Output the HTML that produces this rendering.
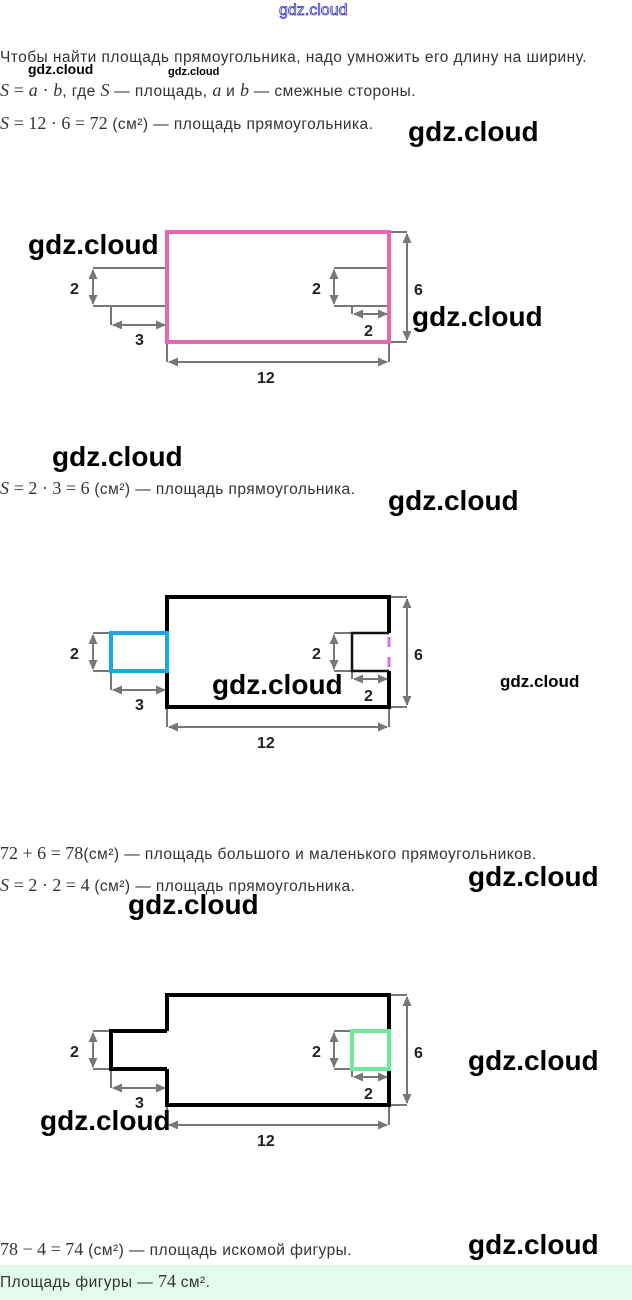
<!DOCTYPE html>
<html><head><meta charset="utf-8"><style>
body{margin:0;width:632px;height:1300px;background:#fff;position:relative;overflow:hidden;font-family:"Liberation Sans",sans-serif;}
.t{position:absolute;left:0;font-size:15.5px;letter-spacing:0.45px;color:#333;white-space:nowrap;line-height:18px;}
.m{font-family:"Liberation Serif",serif;font-size:18px;letter-spacing:0;}
.mi{font-family:"Liberation Serif",serif;font-style:italic;font-size:18px;letter-spacing:0;}
.w{position:absolute;font-family:"Liberation Sans",sans-serif;font-weight:bold;color:#000;white-space:nowrap;line-height:1;}
svg{position:absolute;left:0;top:0;}
</style></head><body>
<div class="w" style="left:279px;top:3px;font-size:16px;font-weight:normal;color:#fff;-webkit-text-stroke:0.8px #3333cc;">gdz.cloud</div>

<div class="t" style="top:49px;">Чтобы найти площадь прямоугольника, надо умножить его длину на ширину.</div>
<div class="t" style="top:81px;"><span class="mi">S</span> <span class="m">=</span> <span class="mi">a</span> <span class="m">·</span> <span class="mi">b</span>, где <span class="mi">S</span> — площадь, <span class="mi">a</span> и <span class="mi">b</span> — смежные стороны.</div>
<div class="t" style="top:114px;"><span class="mi">S</span> <span class="m">= 12 · 6 = 72</span> (см²) — площадь прямоугольника.</div>
<div class="t" style="top:479px;"><span class="mi">S</span> <span class="m">= 2 · 3 = 6</span> (см²) — площадь прямоугольника.</div>
<div class="t" style="top:844px;"><span class="m">72 + 6 = 78</span>(см²) — площадь большого и маленького прямоугольников.</div>
<div class="t" style="top:876px;"><span class="mi">S</span> <span class="m">= 2 · 2 = 4</span> (см²) — площадь прямоугольника.</div>
<div class="t" style="top:1240px;"><span class="m">78 − 4 = 74</span> (см²) — площадь искомой фигуры.</div>
<div style="position:absolute;left:0;top:1265px;width:632px;height:35px;background:#e3fbec;"></div>
<div class="t" style="top:1272px;">Площадь фигуры — <span class="m">74</span> см².</div>

<svg width="632" height="1300" xmlns="http://www.w3.org/2000/svg">
<defs>
<marker id="a" viewBox="0 0 10 10" refX="9" refY="5" markerWidth="5" markerHeight="5" orient="auto-start-reverse"><path d="M0,0.5 L10,5 L0,9.5 z" fill="#777"/></marker>
<g id="dims" stroke="#777" stroke-width="2" fill="none">
<path d="M93,36H167M93,74H167M111,74V93"/>
<line x1="93" y1="38" x2="93" y2="72" marker-start="url(#a)" marker-end="url(#a)"/>
<line x1="113" y1="93" x2="165" y2="93" marker-start="url(#a)" marker-end="url(#a)"/>
<path d="M334,36H389M334,74H389M352,74V82"/>
<line x1="334" y1="38" x2="334" y2="72" marker-start="url(#a)" marker-end="url(#a)"/>
<line x1="354" y1="82" x2="387" y2="82" marker-start="url(#a)" marker-end="url(#a)"/>
<path d="M389,0H407M389,110H407M167,110V130M389,110V130"/>
<line x1="407" y1="2" x2="407" y2="108" marker-start="url(#a)" marker-end="url(#a)"/>
<line x1="169" y1="130" x2="387" y2="130" marker-start="url(#a)" marker-end="url(#a)"/>
</g>
<g id="lbl" font-family="Liberation Sans, sans-serif" font-weight="bold" font-size="16" fill="#222">
<text x="70" y="62">2</text><text x="135" y="113">3</text><text x="312" y="62">2</text>
<text x="364" y="104">2</text><text x="414" y="63">6</text><text x="257" y="151">12</text>
</g>
</defs>

<g transform="translate(0,232)">
<use href="#dims"/><use href="#lbl"/>
<rect x="167" y="0" width="222" height="110" fill="none" stroke="#e866b0" stroke-width="4"/>
</g>

<g transform="translate(0,597)">
<use href="#dims"/><use href="#lbl"/>
<path d="M167,36V0H389V36M389,74V110H167V74" fill="none" stroke="#000" stroke-width="4"/>
<path d="M389,36H352V74H389" fill="none" stroke="#111" stroke-width="2.5"/>
<path d="M389,40V50M389,60V70" stroke="#d070e8" stroke-width="3"/>
<rect x="111" y="36" width="56" height="38" fill="none" stroke="#19a8e6" stroke-width="4"/>
</g>

<g transform="translate(0,995)">
<use href="#dims"/><use href="#lbl"/>
<path d="M167,36V0H389V36M389,74V110H167V74" fill="none" stroke="#000" stroke-width="4"/>
<path d="M167,36H111V74H167" fill="none" stroke="#000" stroke-width="4"/>
<rect x="352" y="36" width="37" height="38" fill="none" stroke="#6ee89a" stroke-width="4"/>
</g>
</svg>

<div class="w" style="left:28px;top:62px;font-size:14px;">gdz.cloud</div>
<div class="w" style="left:168px;top:67px;font-size:11px;">gdz.cloud</div>
<div class="w" style="left:408px;top:118px;font-size:28px;">gdz.cloud</div>
<div class="w" style="left:28px;top:231px;font-size:28px;">gdz.cloud</div>
<div class="w" style="left:412px;top:303px;font-size:28px;">gdz.cloud</div>
<div class="w" style="left:52px;top:443px;font-size:28px;">gdz.cloud</div>
<div class="w" style="left:388px;top:487px;font-size:28px;">gdz.cloud</div>
<div class="w" style="left:212px;top:671px;font-size:28px;">gdz.cloud</div>
<div class="w" style="left:500px;top:673px;font-size:17px;">gdz.cloud</div>
<div class="w" style="left:468px;top:863px;font-size:28px;">gdz.cloud</div>
<div class="w" style="left:128px;top:891px;font-size:28px;">gdz.cloud</div>
<div class="w" style="left:468px;top:1047px;font-size:28px;">gdz.cloud</div>
<div class="w" style="left:40px;top:1107px;font-size:28px;">gdz.cloud</div>
<div class="w" style="left:468px;top:1231px;font-size:28px;">gdz.cloud</div>
</body></html>
